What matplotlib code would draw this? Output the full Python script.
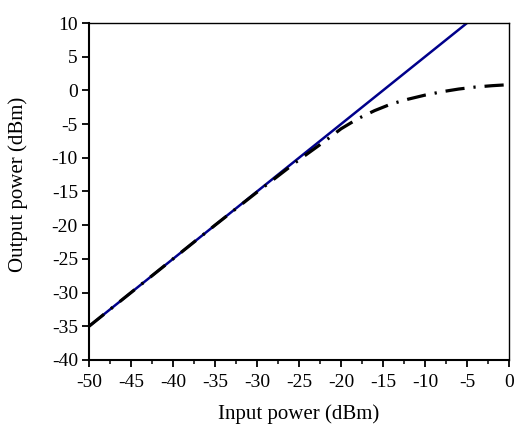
import matplotlib
matplotlib.use("Agg")
import matplotlib.pyplot as plt
from matplotlib.ticker import MultipleLocator

plt.rcParams['font.family'] = ['Liberation Serif', 'DejaVu Serif']
plt.rcParams['axes.unicode_minus'] = False

# Linear (ideal) response
lin_x = [-50, 0]
lin_y = [-35, 15]

# Saturated response (dash-dot)
sat_x = [-50, -45, -40, -35, -30, -25, -22, -20, -18, -16, -14, -12, -10, -8, -6, -4, -2, 0]
sat_y = [-35, -30, -25, -20, -15.1, -10.3, -7.6, -5.7, -4.2, -3.0, -2.0, -1.3, -0.7, -0.2, 0.2, 0.5, 0.7, 0.85]

fig = plt.figure(figsize=(5.16, 4.26), dpi=100)
ax = fig.add_axes([0.1725, 0.155, 0.814, 0.791])

ax.plot(lin_x, lin_y, color='#00008B', lw=1.8, solid_capstyle='butt')
ax.plot(sat_x, sat_y, color='black', lw=2.3, dashes=(6, 2.8, 0.7, 2.8))

ax.set_xlim(-50, 0)
ax.set_ylim(-40, 10)
ax.xaxis.set_major_locator(MultipleLocator(5))
ax.xaxis.set_minor_locator(MultipleLocator(2.5))
ax.yaxis.set_major_locator(MultipleLocator(5))

ax.tick_params(axis='both', which='major', direction='out', length=5, width=1.3, labelsize=14, colors='black')
ax.tick_params(axis='x', which='major', pad=5)
ax.tick_params(axis='y', which='major', pad=3)
ax.tick_params(axis='x', which='minor', direction='out', length=3, width=1.1)
ax.tick_params(top=False, right=False)

for s in ['left', 'bottom']:
    ax.spines[s].set_linewidth(1.5)
for s in ['top', 'right']:
    ax.spines[s].set_linewidth(1.0)

ax.set_xlabel('Input power (dBm)', fontsize=15)
ax.set_ylabel('Output power (dBm)', fontsize=15)
ax.xaxis.set_label_coords(0.5, -0.132)
ax.yaxis.set_label_coords(-0.146, 0.522)

fig.savefig('out.png', dpi=100)
